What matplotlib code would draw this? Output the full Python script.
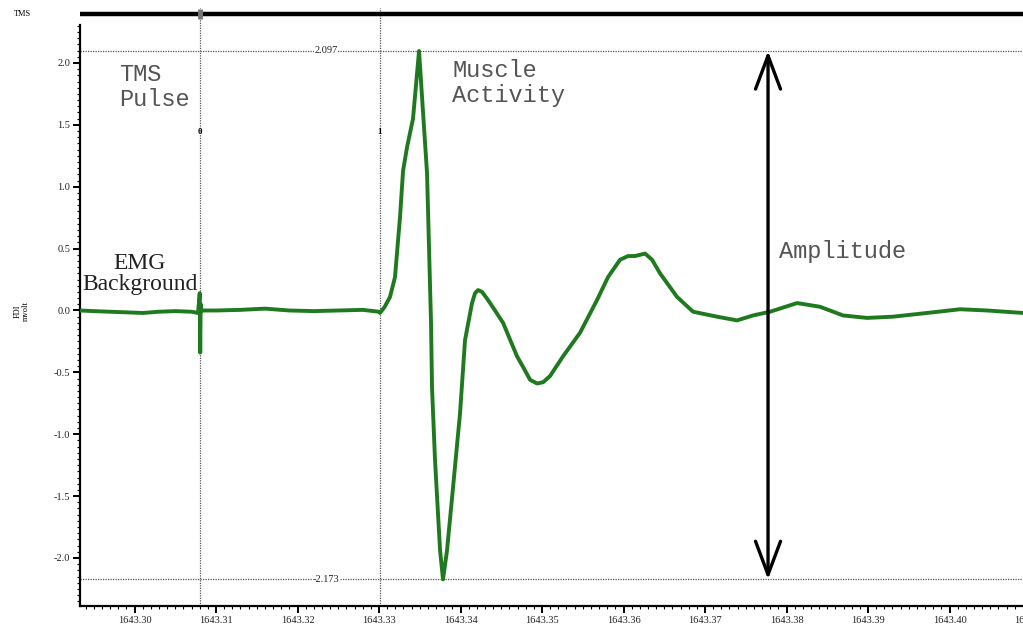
import numpy as np
import matplotlib
matplotlib.use("Agg")
import matplotlib.pyplot as plt
from matplotlib.ticker import MultipleLocator, FormatStrFormatter

# ── data (time offset from 1643.30 s in ms, FDI in mV) ──
T0 = 1643.30
t_ms = [
    -6.69, -5.0, -3.0, -1.0, 1.0, 3.0, 5.0, 7.0, 7.79,
    8.00, 8.06, 8.12, 8.20,
    10.0, 13.0, 16.0, 19.0, 22.0, 25.0, 28.0, 30.0, 30.12,
    30.70, 31.35, 31.96, 32.58, 32.95, 33.44, 34.17, 34.91,
    35.40, 35.89, 36.38, 36.50, 36.87, 37.49, 37.85,
    38.34, 39.08, 39.94, 40.55, 41.41, 41.78, 42.15, 42.64, 43.37, 44.23,
    45.22, 46.93, 47.79, 48.53, 49.39, 50.12, 50.98, 52.58, 54.66, 56.75,
    58.10, 59.57, 60.55, 61.41, 62.64, 63.50, 64.48, 66.56, 68.53,
    71.47, 73.93, 75.89, 77.98, 81.29, 84.11, 86.93, 89.88,
    93.07, 97.24, 101.29, 104.60, 109.02, 111.10,
]
emg_mv = [
    0.00, -0.005, -0.01, -0.015, -0.02, -0.01, -0.005, -0.01, -0.02,
    0.14, -0.34, 0.05, 0.00,
    0.00, 0.005, 0.015, 0.00, -0.005, 0.00, 0.005, -0.01, -0.02,
    0.03, 0.11, 0.27, 0.76, 1.13, 1.32, 1.55, 2.097,
    1.60, 1.11, -0.10, -0.62, -1.21, -1.94, -2.173,
    -1.94, -1.43, -0.83, -0.24, 0.06, 0.14, 0.165, 0.15, 0.085, 0.00,
    -0.10, -0.37, -0.47, -0.56, -0.59, -0.58, -0.53, -0.37, -0.18, 0.085,
    0.27, 0.41, 0.44, 0.44, 0.46, 0.41, 0.30, 0.11, -0.01,
    -0.05, -0.08, -0.04, -0.01, 0.06, 0.03, -0.04, -0.06,
    -0.05, -0.02, 0.01, 0.00, -0.02, -0.02,
]
tms_pulse_ms = 8.04      # marker "0"
mep_onset_ms = 30.12     # marker "1"
peak_mv, trough_mv = 2.097, -2.173
amp_arrow_ms = 77.73

GREEN = "#1f7a1f"
DOT = "#555555"
SERIF = "Liberation Serif"
MONO = "Liberation Mono"

t = T0 + np.array(t_ms) / 1000.0
y = np.array(emg_mv)

fig = plt.figure(figsize=(10.23, 6.28), dpi=100)
fig.patch.set_facecolor("white")
ax = fig.add_axes([80 / 1023, 22 / 628, 960 / 1023, 581 / 628])
ax.set_xlim(T0 - 6.69 / 1000, T0 + 111.10 / 1000)
ax.set_ylim(-2.388, 2.307)

# axes styling
for side in ("top", "right"):
    ax.spines[side].set_visible(False)
for side in ("left", "bottom"):
    ax.spines[side].set_linewidth(1.6)
    ax.spines[side].set_color("black")
ax.xaxis.set_major_locator(MultipleLocator(0.01))
ax.xaxis.set_minor_locator(MultipleLocator(0.001))
ax.xaxis.set_major_formatter(FormatStrFormatter("%.2f"))
ax.yaxis.set_major_locator(MultipleLocator(0.5))
ax.yaxis.set_minor_locator(MultipleLocator(0.05))
ax.yaxis.set_major_formatter(FormatStrFormatter("%.1f"))
ax.tick_params(which="major", length=5, width=1.4, direction="out", pad=2)
ax.tick_params(which="minor", length=2.5, width=0.8, direction="out")
for lab in ax.get_xticklabels() + ax.get_yticklabels():
    lab.set_fontfamily(SERIF)
    lab.set_fontsize(7.5)
    lab.set_color("#222222")

# dotted reference lines
xt = ax.get_xaxis_transform()
for tm in (tms_pulse_ms, mep_onset_ms):
    ax.plot([T0 + tm / 1000] * 2, [0, 1.03], transform=xt, ls=(0, (1, 1)),
            lw=0.9, color=DOT, clip_on=False, zorder=1)
for lvl in (peak_mv, trough_mv):
    ax.axhline(lvl, ls=(0, (1, 1)), lw=0.9, color=DOT, zorder=1)
    ax.text(T0 + 0.0235, lvl, f"{lvl:.3f}", ha="center", va="center",
            fontsize=7.5, family=SERIF, color="#222222",
            bbox=dict(facecolor="white", edgecolor="none", pad=0.3), zorder=2)

# TMS channel strip on top
x0, x1 = ax.get_xlim()
ax.plot([x0, x1], [1.019, 1.019], transform=xt, color="black", lw=3.2,
        clip_on=False, solid_capstyle="butt")
ax.plot([T0 + tms_pulse_ms / 1000] * 2, [1.01, 1.028], transform=xt,
        color="#777777", lw=3.5, clip_on=False, solid_capstyle="butt")
fig.text(22 / 1023, 1 - 14 / 628, "TMS", fontsize=6, family=SERIF,
         ha="center", va="center")
fig.text(22 / 1023, 1 - 311 / 628, "FDI\nmvolt", fontsize=6, family=SERIF,
         ha="center", va="center", rotation=90, linespacing=1.0)

# event numbers
for tm, lab in ((tms_pulse_ms, "0"), (mep_onset_ms, "1")):
    ax.text(T0 + tm / 1000, 1.442, lab, ha="center", va="center",
            fontsize=6.5, family=SERIF, fontweight="bold")

# EMG trace
ax.plot(t, y, color=GREEN, lw=2.8, solid_joinstyle="round", zorder=3)

# amplitude arrow
ta = T0 + amp_arrow_ms / 1000
ax.annotate("", xy=(ta, peak_mv), xytext=(ta, trough_mv),
            arrowprops=dict(arrowstyle="<->,head_length=1.2,head_width=0.45",
                            lw=2.4, color="black", shrinkA=0, shrinkB=0,
                            mutation_scale=20), zorder=4)

# annotations
ax.text(T0 - 0.0019, 2.0, "TMS\nPulse", family=MONO, fontsize=17,
        color="#555555", ha="left", va="top", linespacing=1.1)
ax.text(T0 + 0.03896, 2.03, "Muscle\nActivity", family=MONO, fontsize=17,
        color="#555555", ha="left", va="top", linespacing=1.1)
ax.text(T0 + 0.07908, 0.473, "Amplitude", family=MONO, fontsize=17,
        color="#555555", ha="left", va="center")
ax.text(T0 + 0.00067, 0.295, "EMG\nBackground", family=SERIF, fontsize=17,
        color="#222222", ha="center", va="center", linespacing=1.0)

fig.savefig("out.png", dpi=100, facecolor="white")
